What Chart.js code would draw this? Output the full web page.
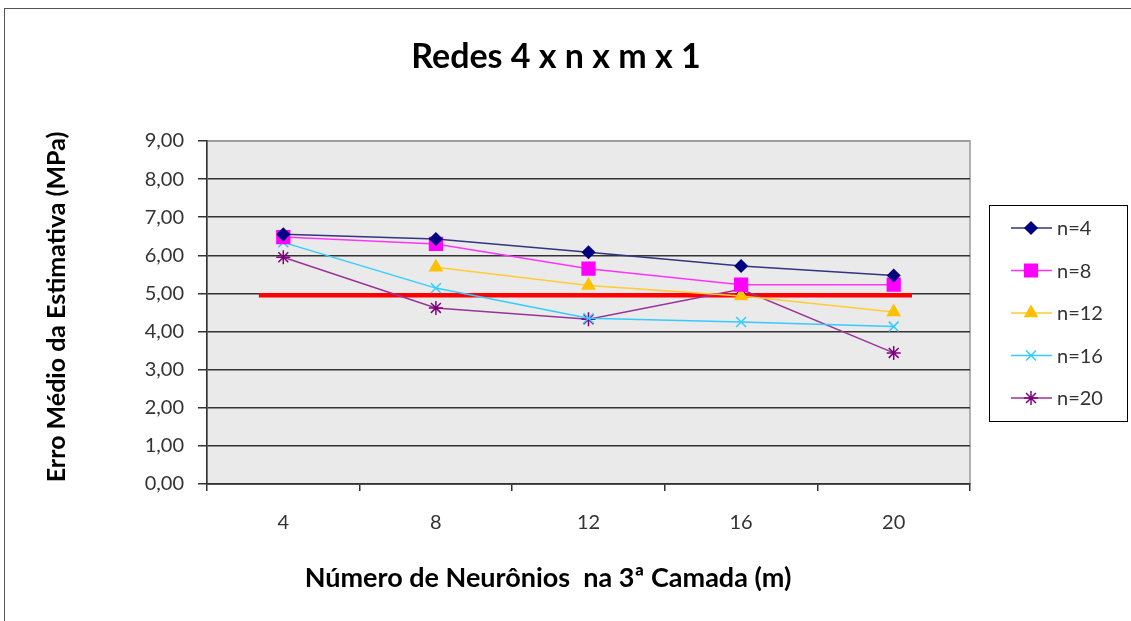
<!DOCTYPE html>
<html>
<head>
<meta charset="utf-8">
<script src="https://cdn.jsdelivr.net/npm/chart.js@4/dist/chart.umd.min.js"></script>
<style>
  html, body { margin: 0; padding: 0; background: #fff; }
  #frame { position: absolute; left: 4px; top: 8px; width: 1200px; height: 700px;
           border-top: 1.5px solid #555; border-left: 1.5px solid #555; }
  #chart { position: absolute; left: 0; top: 0; }
</style>
</head>
<body>
<div id="frame"></div>
<canvas id="chart" width="1131" height="621"></canvas>
<script>
// data
const categories = ['4', '8', '12', '16', '20'];
const seriesNames = ['n=4', 'n=8', 'n=12', 'n=16', 'n=20'];
const n4 = [6.55, 6.43, 6.08, 5.72, 5.47];
const n8 = [6.48, 6.30, 5.65, 5.23, 5.23];
const n12 = [null, 5.69, 5.21, 4.93, 4.51];
const n16 = [6.34, 5.14, 4.35, 4.25, 4.13];
const n20 = [5.95, 4.62, 4.32, 5.11, 3.44];
const yTickLabels = ['0,00', '1,00', '2,00', '3,00', '4,00', '5,00', '6,00', '7,00', '8,00', '9,00'];
const limitValue = 4.95;   // red reference line
const limitFrom = -0.16;   // category index where it starts
const limitTo = 4.12;      // category index where it ends

const titleText = 'Redes 4 x n x m x 1';
const xTitle = 'Número de Neurônios  na 3ª Camada (m)';
const yTitle = 'Erro Médio da Estimativa (MPa)';

const FONT = 'Lato, "Open Sans", sans-serif';

const styles = [
  { line: '#33337f', point: '#000080', shape: 'rectRot', r: 6 },
  { line: '#ff33ff', point: '#ff00ff', shape: 'rect', r: 9 },
  { line: '#ffcc33', point: '#ffc000', shape: 'triangle', r: 7 },
  { line: '#33ccff', point: '#33ccff', shape: 'crossRot', r: 7 },
  { line: '#993399', point: '#800080', shape: 'star', r: 7 }
];
const values = [n4, n8, n12, n16, n20];

const datasets = values.map((v, i) => ({
  label: seriesNames[i],
  data: v,
  borderColor: styles[i].line,
  backgroundColor: styles[i].point,
  pointBorderColor: styles[i].point,
  pointBackgroundColor: styles[i].point,
  pointStyle: styles[i].shape,
  pointRadius: styles[i].r,
  pointBorderWidth: 1.5,
  borderWidth: 1.5,
  tension: 0,
  spanGaps: false
}));

// grey plot background + frame, red limit line, titles
const plotArea = {
  id: 'plotArea',
  beforeDraw(chart) {
    const { ctx, chartArea: a } = chart;
    ctx.save();
    ctx.fillStyle = '#eaeaea';
    ctx.fillRect(a.left, a.top, a.right - a.left, a.bottom - a.top);
    ctx.strokeStyle = '#9a9a9a';
    ctx.lineWidth = 1.5;
    ctx.strokeRect(a.left, a.top, a.right - a.left, a.bottom - a.top);

    ctx.fillStyle = '#000';
    ctx.textAlign = 'center';
    ctx.textBaseline = 'middle';
    ctx.font = 'bold 34px ' + FONT;
    ctx.fillText(titleText, 556, 57);
    ctx.font = 'bold 27px ' + FONT;
    ctx.fillText(xTitle, 548, 578);
    ctx.translate(57, 307);
    ctx.rotate(-Math.PI / 2);
    ctx.font = 'bold 25px ' + FONT;
    ctx.fillText(yTitle, 0, 0);
    ctx.restore();
  },
  beforeDatasetsDraw(chart) {
    const { ctx, scales } = chart;
    const y = scales.y.getPixelForValue(limitValue);
    ctx.save();
    ctx.strokeStyle = '#ff0000';
    ctx.lineWidth = 4.5;
    ctx.beginPath();
    ctx.moveTo(scales.x.getPixelForValue(limitFrom), y);
    ctx.lineTo(scales.x.getPixelForValue(limitTo), y);
    ctx.stroke();
    ctx.restore();
  }
};

// boxed legend on the right, line + marker samples
const boxLegend = {
  id: 'boxLegend',
  afterDraw(chart) {
    const { ctx } = chart;
    const left = 989, top = 205, w = 138, h = 216;
    ctx.save();
    ctx.fillStyle = '#fff';
    ctx.fillRect(left, top, w, h);
    ctx.strokeStyle = '#000';
    ctx.lineWidth = 1;
    ctx.strokeRect(left + 0.5, top + 0.5, w, h);
    chart.data.datasets.forEach((ds, i) => {
      const y = 228 + i * 42.5;
      ctx.strokeStyle = ds.borderColor;
      ctx.lineWidth = 1.5;
      ctx.beginPath();
      ctx.moveTo(1011, y);
      ctx.lineTo(1052, y);
      ctx.stroke();
      ctx.fillStyle = ds.pointBackgroundColor;
      ctx.strokeStyle = ds.pointBorderColor;
      Chart.helpers.drawPoint(ctx, { pointStyle: ds.pointStyle, radius: ds.pointRadius, borderWidth: 1.5, rotation: 0 }, 1031, y);
      ctx.fillStyle = '#333';
      ctx.font = '20px ' + FONT;
      ctx.textBaseline = 'middle';
      ctx.fillText(ds.label, 1057, y + 1);
    });
    ctx.restore();
  }
};

new Chart(document.getElementById('chart'), {
  type: 'line',
  data: { labels: categories, datasets: datasets },
  plugins: [plotArea, boxLegend],
  options: {
    responsive: false,
    animation: false,
    layout: { padding: { left: 0, top: 141, right: 161, bottom: 0 } },
    plugins: {
      legend: { display: false },
      tooltip: { enabled: false },
      title: { display: false }
    },
    scales: {
      x: {
        offset: true,
        grid: { offset: true, drawOnChartArea: false, drawTicks: true, tickLength: 7, color: '#333', lineWidth: 1.5 },
        border: { display: true, color: '#333', width: 1.5 },
        ticks: { color: '#333', font: { family: FONT, size: 20 }, padding: 20 },
        afterFit(scale) { scale.height = 137; }
      },
      y: {
        min: 0,
        max: 9,
        grid: {
          color: (c) => c.tick && c.tick.value === 9 ? '#9a9a9a' : '#333',
          tickColor: '#333',
          lineWidth: 1.5,
          tickLength: 9
        },
        border: { display: true, color: '#333', width: 1.5 },
        ticks: {
          stepSize: 1,
          color: '#333',
          font: { family: FONT, size: 20 },
          padding: 14,
          callback: (v, i) => yTickLabels[i]
        },
        afterFit(scale) { scale.width = 207; }
      }
    }
  }
});
</script>
</body>
</html>
